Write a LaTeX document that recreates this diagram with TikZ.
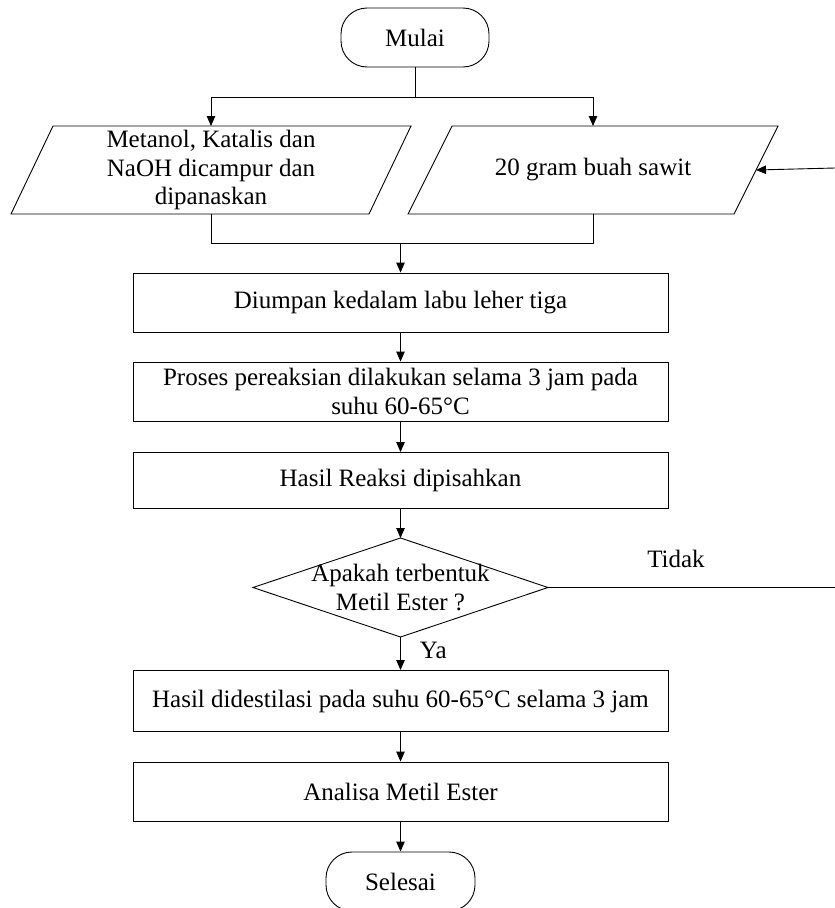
\documentclass[tikz,border=0pt]{standalone}
\usepackage{fontspec}
\setmainfont{Liberation Serif}
\usetikzlibrary{arrows.meta,calc}
\begin{document}
\begin{tikzpicture}[x=1pt,y=-1pt,
  every node/.style={font=\fontsize{25}{28.5}\selectfont, align=center, inner sep=0pt},
  line/.style={line width=0.9pt, draw=black},
  arr/.style={line, -{Triangle[length=10pt,width=8.5pt]}},
  procbox/.style={draw, line width=0.9pt, minimum width=535pt, minimum height=59pt},
  term/.style={draw, line width=0.9pt, rounded corners=26pt, minimum width=148pt, minimum height=59pt},
  iobox/.style={minimum height=88pt, outer sep=0pt},
]
\useasboundingbox (0,0) rectangle (835,908);
\clip (0,0) rectangle (835,908);

% nodes
\node[term] (mulai) at (415,37.5) {Mulai};
\node[iobox, minimum width=400pt] (in1) at (211,170) {Metanol, Katalis dan\\NaOH dicampur dan\\dipanaskan};
\draw[line] ($(in1.north west)+(42,0)$) -- (in1.north east) -- ($(in1.south east)+(-42,0)$) -- (in1.south west) -- cycle;
\node[iobox, minimum width=370pt] (in2) at (593,170) {20 gram buah sawit};
\draw[line] ($(in2.north west)+(44,0)$) -- (in2.north east) -- ($(in2.south east)+(-44,0)$) -- (in2.south west) -- cycle;

\node[procbox] (b1) at (400.5,302.5) {Diumpan kedalam labu leher tiga};
\node[procbox] (b2) at (400.5,391.5) {Proses pereaksian dilakukan selama 3 jam pada\\suhu 60-65°C};
\node[procbox, minimum height=56pt] (b3) at (400.5,480.5) {Hasil Reaksi dipisahkan};
\node[minimum width=295pt, minimum height=99pt, outer sep=0pt] (dec) at (400.5,587.5) {Apakah terbentuk\\Metil Ester ?};
\draw[line] (dec.north) -- (dec.east) -- (dec.south) -- (dec.west) -- cycle;
\node[procbox, minimum height=61pt] (b4) at (400.5,701) {Hasil didestilasi pada suhu 60-65°C selama 3 jam};
\node[procbox] (b5) at (400.5,791.5) {Analisa Metil Ester};
\node[term, minimum width=149pt] (selesai) at (400.5,881.5) {Selesai};

% connectors
\draw[line] (mulai.south) -- ++(0,30) coordinate (split);
\draw[arr] (split) -| (in1.north);
\draw[arr] (split) -| (in2.north);
\draw[line] (in1.south) -- ++(0,29) coordinate (mrow) -| (in2.south);
\draw[arr] (b1.north |- mrow) -- (b1.north);
\coordinate (ext1) at (835,168);
\draw[arr] (ext1) -- ($(in2.east)+(-22,0)$);
\draw[arr] (b1.south) -- (b2.north);
\draw[arr] (b2.south) -- (b3.north);
\draw[arr] (b3.south) -- (dec.north);
\draw[arr] (dec.south) -- node[pos=0.4, anchor=west, xshift=19pt] {Ya} (b4.north);
\coordinate (ext2) at (835,587.5);
\draw[line] (dec.east) -- node[pos=0.446, yshift=29pt] {Tidak} (ext2);
\draw[arr] (b4.south) -- (b5.north);
\draw[arr] (b5.south) -- (selesai.north);
\end{tikzpicture}
\end{document}
